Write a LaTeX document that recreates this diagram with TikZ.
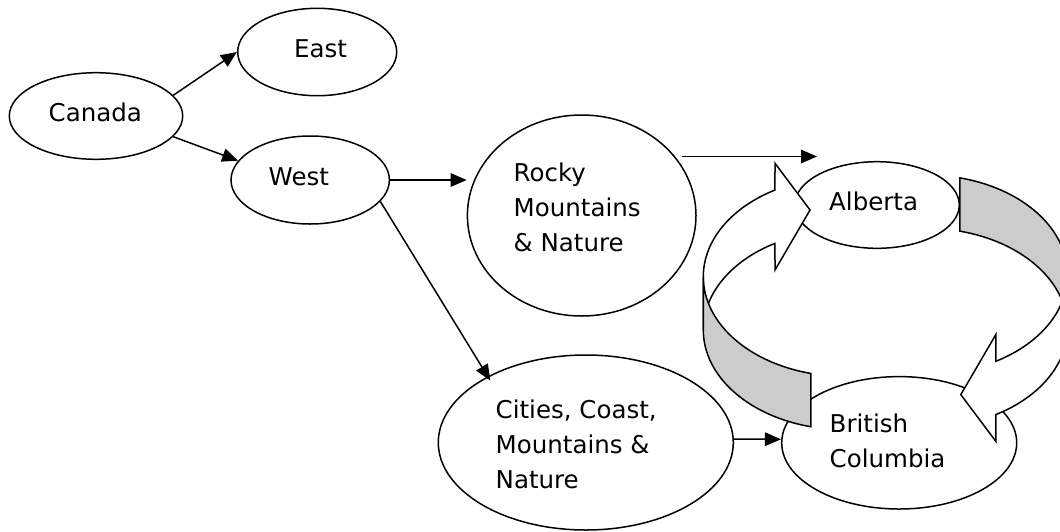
\documentclass[tikz,border=0pt]{standalone}
\usepackage{fontspec}
\setmainfont{DejaVu Sans}
\usetikzlibrary{shapes.geometric,arrows.meta}
\definecolor{ribbongray}{RGB}{204,204,204}

% One curved 3D ribbon arrow: back face (white) ending in the head,
% front face (grey) ending in a flat cut.
\newcommand\turnarrow{%
  \draw[ribbon]
    plot[domain=180:240.5, samples=50] ({844.5+141.2*cos(\x)},{276.7+99.6*sin(\x)})
    -- (775,163.3) -- (810,210) -- (775,270)
    -- plot[domain=240.5:180, samples=50] ({844.5+141.2*cos(\x)},{330+99.6*sin(\x)})
    -- cycle;
  \draw[ribbonside]
    plot[domain=180:103.8, samples=50] ({844.5+141.2*cos(\x)},{276.7+99.6*sin(\x)})
    -- plot[domain=103.8:180, samples=50] ({844.5+141.2*cos(\x)},{330+99.6*sin(\x)})
    -- cycle;
}

\begin{document}
\begin{tikzpicture}[x=1pt,y=-1pt,
  bubble/.style={draw, ellipse, line width=1.5pt, inner sep=0pt, fill=white},
  lbl/.style={font=\fontsize{24.5}{35}\selectfont, inner sep=0pt, anchor=base west},
  link/.style={line width=1.5pt, -{Triangle[length=16pt,width=13.5pt]}},
  ribbon/.style={line width=1.5pt, line join=miter, fill=white},
  ribbonside/.style={ribbon, fill=ribbongray}]

\clip (0,0) rectangle (1060,531);
\fill[white] (0,0) rectangle (1060,531);

% regions
\node[bubble, minimum width=173.4pt, minimum height=86.6pt] (canada) at (96,116) {};
\node[bubble, minimum width=159pt, minimum height=87.4pt] (east) at (317.2,52) {};
\node[bubble, minimum width=158.4pt, minimum height=88pt] (west) at (310.2,180) {};
\node[bubble, minimum width=228.6pt, minimum height=201pt] (rocky) at (581.7,215.5) {};
\node[bubble, minimum width=295pt, minimum height=175pt] (cities) at (585.8,442.5) {};
\node[bubble, minimum width=164.6pt, minimum height=86.6pt] (alberta) at (877,205) {};
\node[bubble, minimum width=235pt, minimum height=132.4pt] (bc) at (899.2,442.8) {};

% connectors
\draw[link] (canada.15.5) -- (east.west);
\draw[link] (canada.-15) -- (west.165.7);
\draw[link] (west.east) -- (west.east -| rocky.west);
\draw[link, shorten >=-5pt] (west.-17) -- (cities.146);
\coordinate (ra-start) at (681.7,156.5);
\coordinate (ra-end) at (817,156.5);
\draw[link] (ra-start) -- (ra-end);
\draw[link] ([yshift=3.5pt]cities.east) -- ([yshift=3.5pt]bc.west);

% the two turning arrows between Alberta and British Columbia
\turnarrow
\begin{scope}[rotate around={180:(885.4,302.3)}]
  \turnarrow
\end{scope}

% labels
\node[lbl] (canada-t) at (48.5,121.7) {Canada};
\node[lbl] (east-t) at (294,57.3) {East};
\node[lbl] (west-t) at (268.5,185.7) {West};
\node[lbl] (rocky-t) at (513.5,181.7) {\begin{tabular}[t]{@{}l@{}}Rocky\\Mountains\\\& Nature\end{tabular}};
\node[lbl] (cities-t) at (495.5,418.3) {\begin{tabular}[t]{@{}l@{}}Cities, Coast,\\Mountains \&\\Nature\end{tabular}};
\node[lbl] (alberta-t) at (829,210) {Alberta};
\node[lbl] (bc-t) at (829.5,432.7) {\begin{tabular}[t]{@{}l@{}}British\\Columbia\end{tabular}};
\end{tikzpicture}
\end{document}
